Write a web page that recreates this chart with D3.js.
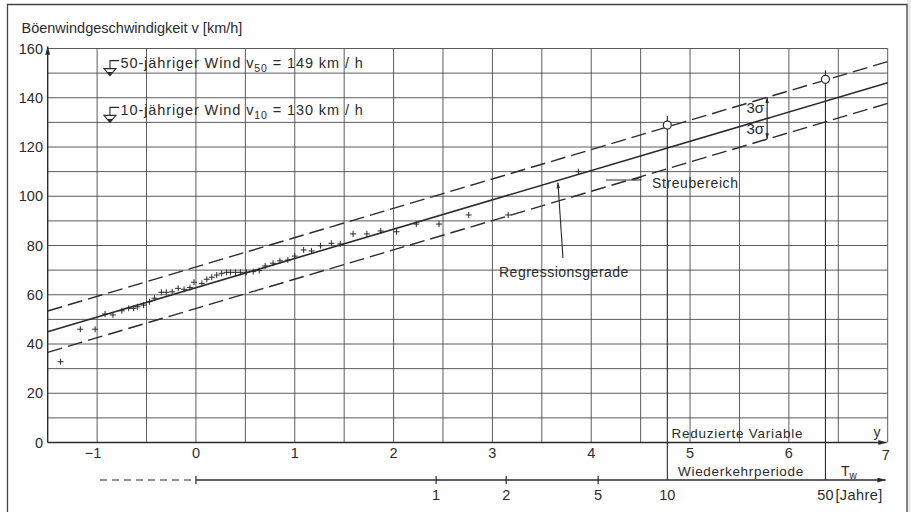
<!DOCTYPE html>
<html>
<head>
<meta charset="utf-8">
<script src="https://cdn.jsdelivr.net/npm/d3@7"></script>
<style>
  body { margin: 0; background: #fff; }
  svg text { font-family: "Liberation Sans", Arial, sans-serif; fill: #2b2b2b; }
</style>
</head>
<body>
<div id="chart"></div>
<script>
// --- Daten ---
const yTicks = [0, 20, 40, 60, 80, 100, 120, 140, 160];
const xTicks = [-1, 0, 1, 2, 3, 4, 5, 6, 7];

// Messpunkte: reduzierte Variable y und Böenwindgeschwindigkeit v
const ptY = [-1.37, -1.17, -1.02, -0.92, -0.84, -0.75, -0.68, -0.63, -0.59, -0.53,
             -0.47, -0.42, -0.35, -0.30, -0.24, -0.18, -0.12, -0.06, -0.02, 0.06,
             0.11, 0.16, 0.21, 0.26, 0.31, 0.35, 0.40, 0.45, 0.51, 0.58,
             0.64, 0.70, 0.78, 0.85, 0.93, 1.00, 1.09, 1.17, 1.26, 1.37,
             1.46, 1.59, 1.73, 1.87, 2.03, 2.23, 2.46, 2.76, 3.16, 3.87];
const ptV = [32.8, 46.0, 46.0, 52.2, 51.8, 53.5, 54.5, 54.5, 55.1, 55.8,
             57.2, 58.6, 61.0, 61.0, 61.2, 62.6, 62.2, 62.9, 65.1, 64.6,
             66.3, 67.1, 68.0, 68.7, 69.1, 69.1, 69.1, 69.1, 69.1, 69.4,
             69.8, 71.7, 72.8, 73.8, 74.1, 75.7, 78.2, 77.8, 79.9, 80.9,
             80.6, 84.7, 84.7, 85.9, 85.6, 88.7, 88.7, 92.4, 92.4, 110.0];

// Regressionsgerade und Streubereich (+/- 3 sigma), Endpunkte [y, v]
const regLine   = [[-1.5, 45.0], [7, 146.1]];
const bandUpper = [[-1.5, 53.4], [7, 154.7]];
const bandLower = [[-1.5, 36.6], [7, 137.7]];

// Wiederkehrperiode T_w (Jahre) und ihre Lage auf der y-Achse
const tLabels = ["1", "2", "5", "10", "50"];
const tPos = [2.43, 3.14, 4.07, 4.77, 6.37];

// Bemessungswind: 10- und 50-jähriger Wind
const designPos = [4.77, 6.37];
const designV = [128.9, 147.5];
const designText = [["10", "130"], ["50", "149"]];
const designMark = [130, 149];

const W = 911, H = 512;
const svg = d3.select("#chart").append("svg")
    .attr("width", W).attr("height", H)
    .attr("viewBox", `0 0 ${W} ${H}`);

const x = d3.scaleLinear().domain([-1.5, 7]).range([47.7, 887.7]);
const y = d3.scaleLinear().domain([0, 160]).range([442.5, 48.5]);
const ink = "#2b2b2b";

// Pfeilspitzen
const defs = svg.append("defs");
defs.append("marker").attr("id", "arr")
    .attr("viewBox", "0 0 10 6").attr("refX", 10).attr("refY", 3)
    .attr("markerWidth", 12).attr("markerHeight", 5)
    .attr("markerUnits", "userSpaceOnUse").attr("orient", "auto")
  .append("path").attr("d", "M0,0 L10,3 L0,6 Z").attr("fill", ink);
defs.append("marker").attr("id", "arrS")
    .attr("viewBox", "0 0 10 6").attr("refX", 10).attr("refY", 3)
    .attr("markerWidth", 6).attr("markerHeight", 4)
    .attr("markerUnits", "userSpaceOnUse").attr("orient", "auto")
  .append("path").attr("d", "M0,0 L10,3 L0,6 Z").attr("fill", ink);

// Rahmen
svg.append("rect").attr("x", 907).attr("y", 0).attr("width", 4).attr("height", H).attr("fill", "#ececec");
svg.append("path").attr("d", "M7.5,512 V4.5 H907 V512")
    .attr("fill", "none").attr("stroke", "#444").attr("stroke-width", 1.3);

// Gitter
const grid = svg.append("g").attr("stroke", "#4a4a4a").attr("stroke-width", 0.9);
grid.selectAll("line.h").data(d3.range(10, 161, 10)).join("line")
    .attr("x1", x(-1.5)).attr("x2", x(7))
    .attr("y1", d => y(d)).attr("y2", d => y(d));
grid.selectAll("line.v").data(d3.range(-1, 7.01, 0.5)).join("line")
    .attr("x1", d => x(d)).attr("x2", d => x(d))
    .attr("y1", y(160)).attr("y2", y(0));

// Achsen
svg.append("line").attr("x1", x(-1.5)).attr("x2", x(-1.5))
    .attr("y1", y(0)).attr("y2", y(160) - 2)
    .attr("stroke", ink).attr("stroke-width", 1.4).attr("marker-end", "url(#arr)");
svg.append("line").attr("x1", x(-1.5)).attr("x2", x(7) - 1)
    .attr("y1", y(0)).attr("y2", y(0))
    .attr("stroke", ink).attr("stroke-width", 1.4).attr("marker-end", "url(#arr)");

// Achsbeschriftung v
svg.append("g").selectAll("text").data(yTicks).join("text")
    .attr("x", 43).attr("y", d => y(d) + 5)
    .attr("text-anchor", "end").attr("font-size", 14.5)
    .text(d => d);

// Achsbeschriftung y
svg.append("g").selectAll("text").data(xTicks).join("text")
    .attr("x", d => x(d) + (d < 0 ? -4 : 0) + (d === 7 ? -2 : 0))
    .attr("y", d => d === 7 ? 460 : 458)
    .attr("text-anchor", "middle").attr("font-size", 14.5)
    .text(d => d < 0 ? "\u2212" + Math.abs(d) : d);

svg.append("text").attr("x", 21.5).attr("y", 33).attr("font-size", 14.5)
    .text("Böenwindgeschwindigkeit  v [km/h]");

svg.append("text").attr("x", 671.5).attr("y", 438).attr("font-size", 13.5)
    .attr("letter-spacing", 0.75).text("Reduzierte  Variable");
svg.append("text").attr("x", 877).attr("y", 437).attr("font-size", 14).attr("text-anchor", "middle").text("y");

// Wiederkehrperiode-Achse
const tY = 480;
svg.append("line").attr("x1", 100).attr("x2", x(0) - 4).attr("y1", tY).attr("y2", tY)
    .attr("stroke", ink).attr("stroke-width", 1.2).attr("stroke-dasharray", "7,5");
svg.append("line").attr("x1", x(0)).attr("x2", x(7) - 2).attr("y1", tY).attr("y2", tY)
    .attr("stroke", ink).attr("stroke-width", 1.3).attr("marker-end", "url(#arr)");
svg.append("line").attr("x1", x(0)).attr("x2", x(0)).attr("y1", tY - 4).attr("y2", tY + 4)
    .attr("stroke", ink).attr("stroke-width", 1.2);
svg.append("g").selectAll("line").data(tPos.slice(0, 3)).join("line")
    .attr("x1", d => x(d)).attr("x2", d => x(d)).attr("y1", tY - 4).attr("y2", tY + 4)
    .attr("stroke", ink).attr("stroke-width", 1.2);
svg.append("g").selectAll("text").data(tLabels).join("text")
    .attr("x", (d, i) => x(tPos[i])).attr("y", 500)
    .attr("text-anchor", "middle").attr("font-size", 14.5)
    .text(d => d);
svg.append("text").attr("x", x(tPos[4]) + 10).attr("y", 500).attr("font-size", 14.5)
    .attr("letter-spacing", 0.4).text("[Jahre]");
svg.append("text").attr("x", 678).attr("y", 475.5).attr("font-size", 13.5)
    .attr("letter-spacing", 0.7).text("Wiederkehrperiode");
const tw = svg.append("text").attr("x", 841).attr("y", 475.5).attr("font-size", 14);
tw.append("tspan").text("T");
tw.append("tspan").attr("font-size", 10).attr("dy", 3).text("w");

// Senkrechte bei T=10 und T=50
svg.append("g").selectAll("line").data(designPos).join("line")
    .attr("x1", d => x(d)).attr("x2", d => x(d))
    .attr("y1", (d, i) => y(designV[i]) - 9).attr("y2", tY)
    .attr("stroke", ink).attr("stroke-width", 1.1);

// Regressionsgerade und Streubereich
const line = d3.line().x(d => x(d[0])).y(d => y(d[1]));
svg.append("path").datum(regLine).attr("d", line)
    .attr("fill", "none").attr("stroke", ink).attr("stroke-width", 1.6);
svg.selectAll("path.band").data([bandUpper, bandLower]).join("path")
    .attr("class", "band").attr("d", line)
    .attr("fill", "none").attr("stroke", ink).attr("stroke-width", 1.4)
    .attr("stroke-dasharray", "15,6");

// Messpunkte
const pts = svg.append("g").attr("stroke", ink).attr("stroke-width", 1);
ptY.forEach((d, i) => {
  const px = x(d), py = y(ptV[i]);
  pts.append("line").attr("x1", px - 3).attr("x2", px + 3).attr("y1", py).attr("y2", py);
  pts.append("line").attr("x1", px).attr("x2", px).attr("y1", py - 3).attr("y2", py + 3);
});

// Bemessungswerte (Kreise)
svg.append("g").selectAll("circle").data(designPos).join("circle")
    .attr("cx", d => x(d)).attr("cy", (d, i) => y(designV[i])).attr("r", 4)
    .attr("fill", "#fff").attr("stroke", ink).attr("stroke-width", 1.2);

// Wasserstand-Dreiecke und Texte oben links
const markX = x(-0.87);
designMark.forEach((v, i) => {
  const ty = y(v);
  const g = svg.append("g");
  g.append("path").attr("d", `M${markX - 6},${ty - 7} H${markX + 6} L${markX},${ty} Z`)
      .attr("fill", "none").attr("stroke", ink).attr("stroke-width", 1.1);
  g.append("path").attr("d", `M${markX - 3},${ty - 3.5} H${markX + 3} L${markX},${ty} Z`).attr("fill", ink);
  g.append("path").attr("d", `M${markX},${ty - 7} V${ty - 15} H${markX + 9}`)
      .attr("fill", "none").attr("stroke", ink).attr("stroke-width", 1.1);
  const t = g.append("text").attr("x", markX + 10.5).attr("y", ty - 7.5)
      .attr("font-size", 14.5).attr("letter-spacing", 0.9);
  t.append("tspan").text(designText[i][0] + "-jähriger  Wind   v");
  t.append("tspan").attr("font-size", 10.5).attr("dy", 4).text(designText[i][0]);
  t.append("tspan").attr("dy", -4).text(" = " + designText[i][1] + " km / h");
});

// 3 sigma Pfeile
const sx = 5.78;
const at = (seg, v) => seg[0][1] + (seg[1][1] - seg[0][1]) * (v - seg[0][0]) / (seg[1][0] - seg[0][0]);
const vReg = at(regLine, sx), vUp = at(bandUpper, sx), vLo = at(bandLower, sx);
svg.append("line").attr("x1", x(sx)).attr("x2", x(sx)).attr("y1", y(vReg)).attr("y2", y(vUp))
    .attr("stroke", ink).attr("stroke-width", 1.2).attr("marker-end", "url(#arrS)");
svg.append("line").attr("x1", x(sx)).attr("x2", x(sx)).attr("y1", y(vReg)).attr("y2", y(vLo))
    .attr("stroke", ink).attr("stroke-width", 1.2).attr("marker-end", "url(#arrS)");
svg.append("line").attr("x1", x(sx) - 2.5).attr("x2", x(sx) + 2.5).attr("y1", y(vReg)).attr("y2", y(vReg))
    .attr("stroke", ink).attr("stroke-width", 1.2);
[(vUp + vReg) / 2, (vReg + vLo) / 2].forEach(v => {
  svg.append("text").attr("x", x(sx) - 3).attr("y", y(v) + 5).attr("text-anchor", "end")
      .attr("font-size", 15).text("3σ");
});

// Streubereich
svg.append("line").attr("x1", x(4.15)).attr("x2", x(4.51)).attr("y1", y(106.6)).attr("y2", y(106.6))
    .attr("stroke", ink).attr("stroke-width", 1.1);
svg.append("path").attr("d", `M${x(4.51)},${y(106.6) - 3} L${x(4.42)},${y(106.6)}`)
    .attr("stroke", ink).attr("stroke-width", 1.1).attr("fill", "none");
svg.append("text").attr("x", 652).attr("y", 188).attr("font-size", 14)
    .attr("letter-spacing", 0.6).text("Streubereich");

// Regressionsgerade Beschriftung
svg.append("line").attr("x1", x(3.714)).attr("x2", x(3.663)).attr("y1", y(74.9)).attr("y2", y(105.6))
    .attr("stroke", ink).attr("stroke-width", 1.1).attr("marker-end", "url(#arrS)");
svg.append("text").attr("x", 499).attr("y", 277).attr("font-size", 14)
    .attr("letter-spacing", 0.5).text("Regressionsgerade");
</script>
</body>
</html>
